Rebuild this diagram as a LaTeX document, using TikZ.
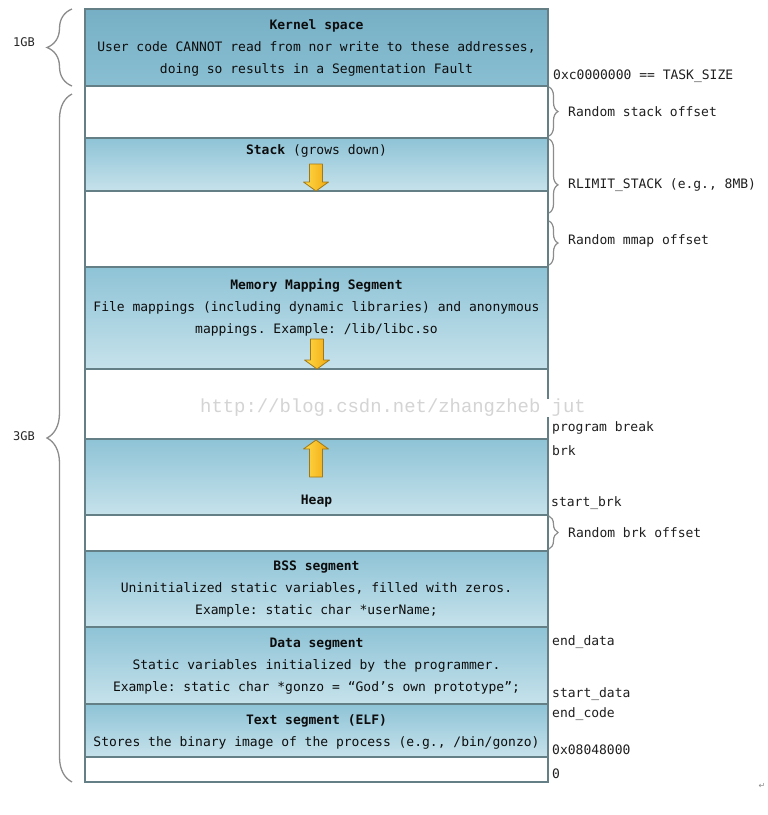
\documentclass[tikz,border=0pt]{standalone}
\usepackage{fontspec}
\setmonofont{DejaVu Sans Mono}
\newfontfamily\wmfont{Liberation Mono}
\newfontfamily\symfont{DejaVu Sans}
\usetikzlibrary{decorations.pathreplacing}
\definecolor{segtop}{HTML}{8EC3D6}
\definecolor{segbot}{HTML}{C6E2EB}
\definecolor{kertop}{HTML}{76AFC5}
\definecolor{kerbot}{HTML}{8ABFD2}
\definecolor{segline}{HTML}{647F86}
\definecolor{bracegray}{HTML}{8C8C8C}
\definecolor{arrlight}{HTML}{FFDA45}
\definecolor{arrdark}{HTML}{F0A812}
\definecolor{arredge}{HTML}{A07818}
\newcommand{\ArrDown}[3]{%
  \shade[garrow] ({#1-6.5},{#2}) -- ({#1+6.5},{#2}) -- ({#1+6.5},{#3-9}) -- ({#1+12.5},{#3-9}) -- ({#1},{#3}) -- ({#1-12.5},{#3-9}) -- ({#1-6.5},{#3-9}) -- cycle;}
\newcommand{\ArrUp}[3]{%
  \shade[garrow] ({#1-6.5},{#2}) -- ({#1+6.5},{#2}) -- ({#1+6.5},{#3+9}) -- ({#1+12.5},{#3+9}) -- ({#1},{#3}) -- ({#1-12.5},{#3+9}) -- ({#1-6.5},{#3+9}) -- cycle;}
\begin{document}
\begin{tikzpicture}[x=1pt,y=-1pt,
  seg/.style={draw=segline, line width=1.6pt, top color=segtop, bottom color=segbot},
  ker/.style={draw=segline, line width=1.6pt, top color=kertop, bottom color=kerbot},
  free/.style={draw=segline, line width=1.6pt, fill=white},
  txt/.style={font=\ttfamily\fontsize{13}{22}\selectfont, text=black!95, align=center, inner sep=0pt},
  lbl/.style={font=\ttfamily\fontsize{13}{22}\selectfont, text=black!88, anchor=west, inner sep=0pt},
  side/.style={font=\ttfamily\fontsize{12}{14}\selectfont, text=black!85, inner sep=0pt},
  lbrace/.style={decorate, decoration={brace, amplitude=25pt}, draw=bracegray, line width=1.3pt},
  rbrace/.style={decorate, decoration={brace, amplitude=9pt}, draw=bracegray, line width=1.2pt},
  garrow/.style={left color=arrlight, right color=arrdark, draw=arredge, line width=0.8pt, line join=round}
]
\fill[white] (0,0) rectangle (768,815);
\useasboundingbox (0,0) rectangle (768,815);

% segments
\path[ker]  (85,9)   rectangle (548,86);
\path[free] (85,86)  rectangle (548,138);
\path[seg]  (85,138) rectangle (548,191);
\path[free] (85,191) rectangle (548,267);
\path[seg]  (85,267) rectangle (548,369);
\path[free] (85,369) rectangle (548,439);
\path[seg]  (85,439) rectangle (548,515);
\path[free] (85,515) rectangle (548,551);
\path[seg]  (85,551) rectangle (548,627);
\path[seg]  (85,627) rectangle (548,704);
\path[seg]  (85,704) rectangle (548,757);
\path[free] (85,757) rectangle (548,782);

% texts in segments
\node[txt] (kern) at (316.5,47.5) {\textbf{Kernel space}\\User code CANNOT read from nor write to these addresses,\\doing so results in a Segmentation Fault};
\node[txt] (stack) at (316.5,151) {\textbf{Stack} (grows down)};
\node[txt] (mmap) at (316.5,307.5) {\textbf{Memory Mapping Segment}\\File mappings (including dynamic libraries) and anonymous\\mappings. Example: /lib/libc.so};
\node[txt] (heap) at (316.5,501) {\textbf{Heap}};
\node[txt] (bss) at (316.5,589.5) {\textbf{BSS segment}\\Uninitialized static variables, filled with zeros.\\Example: static char *userName;};
\node[txt] (data) at (316.5,666.5) {\textbf{Data segment}\\Static variables initialized by the programmer.\\Example: static char *gonzo = “God’s own prototype”;};
\node[txt] (text) at (316.5,731.5) {\textbf{Text segment (ELF)}\\Stores the binary image of the process (e.g., /bin/gonzo)};

% growth arrows
\ArrDown{316}{164}{191}
\ArrDown{317}{339}{369}
\ArrUp{316}{477}{440}

% watermark
\node[font=\wmfont\fontsize{18.9}{20}\selectfont, text=black!17, fill=white, anchor=west, inner sep=0pt] (wm) at (200,408) {http://blog.csdn.net/zhangzheb jut};

% left braces
\draw[lbrace] (72,86) -- (72,9);
\node[side] (g1) at (24,42) {1GB};
\draw[lbrace] (72,782) -- (72,94);
\node[side] (g3) at (24,436) {3GB};

% right braces
\draw[rbrace] (549,87) -- (549,136);
\node[lbl] (rso) at (568,112) {Random stack offset};
\draw[rbrace, decoration={brace, amplitude=9pt, aspect=0.62}] (549,139) -- (549,213);
\node[lbl] (rls) at (568,185) {RLIMIT\_STACK (e.g., 8MB)};
\draw[rbrace] (549,221) -- (549,265);
\node[lbl] (rmo) at (568,241) {Random mmap offset};
\draw[rbrace] (549,516) -- (549,549);
\node[lbl] (rbo) at (568,533) {Random brk offset};

% address labels
\node[lbl] (task) at (553,76) {0xc0000000 == TASK\_SIZE};
\node[lbl] (pb) at (552,428) {program break};
\node[lbl] (brk) at (552,451) {brk};
\node[lbl] (sbrk) at (551,503) {start\_brk};
\node[lbl] (edata) at (552,642) {end\_data};
\node[lbl] (sdata) at (552,694) {start\_data};
\node[lbl] (ecode) at (552,714) {end\_code};
\node[lbl] (base) at (552,750) {0x08048000};
\node[lbl] (zero) at (552,774) {0};

\node[font=\symfont\fontsize{8}{8}\selectfont, text=black!45] (ret) at (762,786) {↵};
\end{tikzpicture}
\end{document}
